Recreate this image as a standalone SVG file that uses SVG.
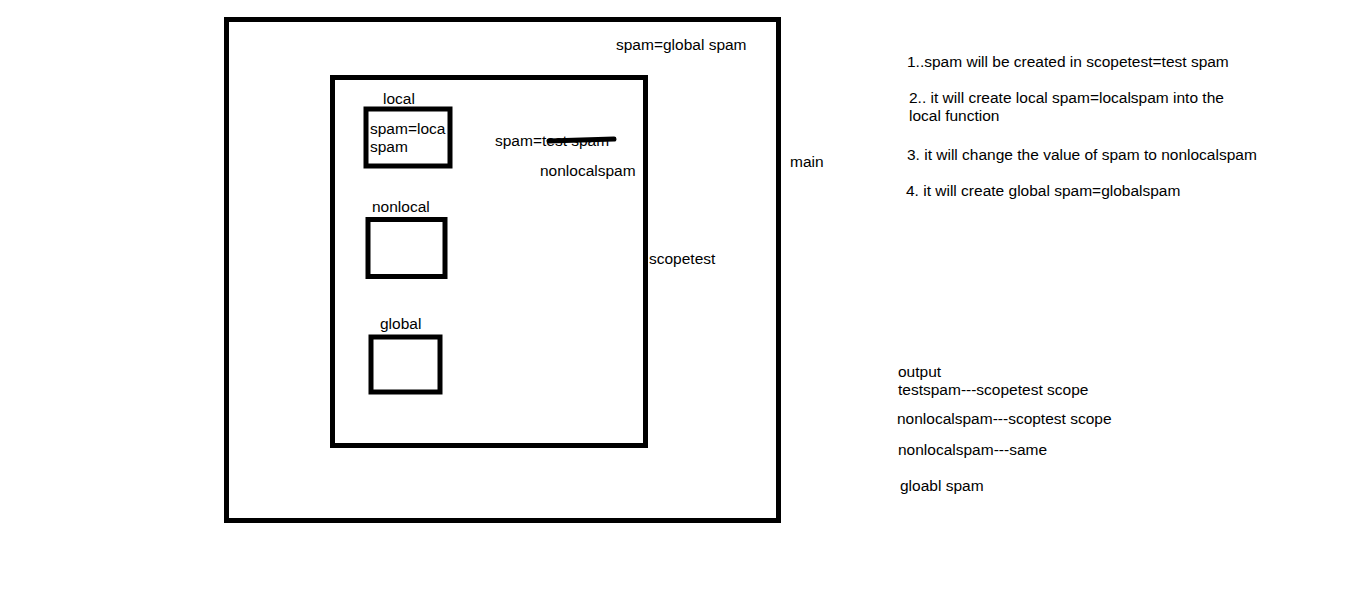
<svg xmlns="http://www.w3.org/2000/svg" width="1360" height="608" viewBox="0 0 1360 608">
<style>
.box{fill:none;stroke:#000;stroke-width:5}
text{font-family:"Liberation Sans",Arial,sans-serif;font-size:15.5px;fill:#000}
</style>
<rect width="1360" height="608" fill="#fff"/>
<g id="main">
<rect class="box" x="226.500" y="19.500" width="552" height="501"/>
<text x="616" y="50">spam=global spam</text>
<text x="790" y="167">main</text>
</g>
<g id="scopetest">
<rect class="box" x="332.500" y="77.500" width="313" height="368"/>
<text x="649" y="264">scopetest</text>
<text x="495" y="146">spam=test spam</text>
<path d="M549 141 L614 139" stroke="#000" stroke-width="5" stroke-linecap="round" fill="none"/>
<text x="540" y="176">nonlocalspam</text>
</g>
<g id="local">
<text x="383" y="104">local</text>
<rect class="box" x="366" y="109" width="84" height="57"/>
<text x="370" y="134">spam=loca</text>
<text x="370" y="152">spam</text>
</g>
<g id="nonlocal">
<text x="372" y="212">nonlocal</text>
<rect class="box" x="368" y="219.500" width="77" height="57"/>
</g>
<g id="global">
<text x="380" y="329">global</text>
<rect class="box" x="371" y="337" width="69" height="55"/>
</g>
<g id="notes">
<text x="907" y="67">1..spam will be created in scopetest=test spam</text>
<text x="909" y="103">2.. it will create local spam=localspam into the</text>
<text x="909" y="121">local function</text>
<text x="907" y="160">3. it will change the value of spam to nonlocalspam</text>
<text x="906" y="196">4. it will create global spam=globalspam</text>
</g>
<g id="output">
<text x="898" y="377">output</text>
<text x="898" y="395">testspam---scopetest scope</text>
<text x="897" y="424">nonlocalspam---scoptest scope</text>
<text x="898" y="455">nonlocalspam---same</text>
<text x="900" y="491">gloabl spam</text>
</g>
<g id="connectors"></g>
</svg>
